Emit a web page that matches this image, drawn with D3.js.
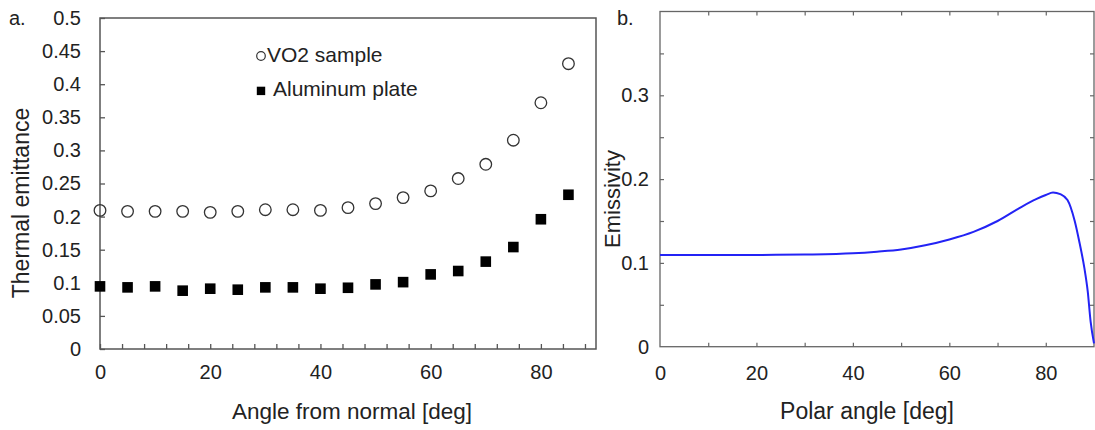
<!DOCTYPE html>
<html>
<head>
<meta charset="utf-8">
<script src="https://cdn.jsdelivr.net/npm/d3@7"></script>
<style>
	body { margin: 0; background: #fff; }
	svg { font-family: "Liberation Sans", Arial, sans-serif; }
</style>
</head>
<body>
<svg id="fig" width="1095" height="430"></svg>
<script>
// panel a: measured thermal emittance
var anglesA = [0, 5, 10, 15, 20, 25, 30, 35, 40, 45, 50, 55, 60, 65, 70, 75, 80, 85]
var vo2 = [0.2094, 0.2079, 0.2079, 0.2079, 0.2064, 0.2079, 0.2104, 0.2104, 0.2094, 0.2135, 0.2196, 0.2287, 0.2388, 0.2575, 0.279, 0.3154, 0.372, 0.431]
var aluminum = [0.0946, 0.0931, 0.0946, 0.0881, 0.0911, 0.0896, 0.0931, 0.0931, 0.0911, 0.0925, 0.0976, 0.101, 0.1127, 0.1178, 0.132, 0.154, 0.196, 0.233]
var yTicksA = [0, 0.05, 0.1, 0.15, 0.2, 0.25, 0.3, 0.35, 0.4, 0.45, 0.5]
var xLabelsA = [0, 20, 40, 60, 80]

// panel b: computed emissivity
var anglesB = [0, 10, 20, 30, 40, 45, 50, 55, 60, 65, 70, 75, 78, 80, 81.5, 83, 84.5, 86, 87, 88, 88.7, 89.3, 90]
var emissivity = [0.1094, 0.1094, 0.1095, 0.110, 0.1115, 0.1134, 0.116, 0.121, 0.128, 0.137, 0.150, 0.167, 0.176, 0.181, 0.184, 0.182, 0.175, 0.150, 0.124, 0.094, 0.066, 0.030, 0.004]
var yLabelsB = [0, 0.1, 0.2, 0.3]
var xLabelsB = [0, 20, 40, 60, 80]

var svg = d3.select("#fig")

// ---------- panel a ----------
var a = { left: 100, right: 596, top: 18, bottom: 349 }

var xA = d3.scaleLinear().domain([0, 90]).range([a.left, a.right])
var yA = d3.scaleLinear().domain([0, 0.5]).range([a.bottom, a.top])

svg.append("rect")
	.attr("x", a.left).attr("y", a.top)
	.attr("width", a.right - a.left).attr("height", a.bottom - a.top)
	.attr("fill", "none").attr("stroke", "#555").attr("stroke-width", 1.5)

var yAxisA = svg.append("g")
	.attr("transform", "translate(" + a.left + ",0)")
	.call(d3.axisLeft(yA).tickValues(yTicksA).tickSize(-5).tickPadding(19)
		.tickFormat(d => d3.format(".2~f")(d)))
yAxisA.select(".domain").remove()
yAxisA.selectAll("line").attr("stroke", "#555").attr("stroke-width", 1.3)
yAxisA.selectAll("text").style("font-size", "20px").attr("fill", "#222")

var xTicksA = svg.append("g")
	.attr("transform", "translate(0," + a.bottom + ")")
	.call(d3.axisBottom(xA).tickValues(d3.range(0, 90, 4)).tickSize(-5).tickFormat(""))
xTicksA.select(".domain").remove()
xTicksA.selectAll("line").attr("stroke", "#555").attr("stroke-width", 1.3)

var xLabA = svg.append("g")
	.attr("transform", "translate(0," + a.bottom + ")")
	.call(d3.axisBottom(xA).tickValues(xLabelsA).tickSize(0).tickPadding(16))
xLabA.select(".domain").remove()
xLabA.selectAll("text").style("font-size", "20px").attr("fill", "#222")

svg.selectAll(".vo2")
	.data(anglesA)
	.enter()
	.append("circle")
	.attr("cx", d => xA(d))
	.attr("cy", (d, i) => yA(vo2[i]))
	.attr("r", 5.8)
	.attr("fill", "none")
	.attr("stroke", "#333")
	.attr("stroke-width", 1.3)

svg.selectAll(".alu")
	.data(anglesA)
	.enter()
	.append("rect")
	.attr("x", d => xA(d) - 5.3)
	.attr("y", (d, i) => yA(aluminum[i]) - 5.3)
	.attr("width", 10.6)
	.attr("height", 10.6)
	.attr("fill", "#000")

// legend
var legend = svg.append("g").attr("transform", "translate(261,0)")
legend.append("circle").attr("cx", 0).attr("cy", 56).attr("r", 4.3)
	.attr("fill", "none").attr("stroke", "#333").attr("stroke-width", 1.2)
legend.append("text").attr("x", 6).attr("y", 62).text("VO2 sample")
	.style("font-size", "21px").attr("fill", "#222")
legend.append("rect").attr("x", -4.2).attr("y", 86.7).attr("width", 8.4).attr("height", 8.4).attr("fill", "#000")
legend.append("text").attr("x", 12).attr("y", 95.5).text("Aluminum plate")
	.style("font-size", "21px").attr("fill", "#222")

svg.append("text").attr("x", 9).attr("y", 25).text("a.")
	.style("font-size", "20px").attr("fill", "#222")

svg.append("text")
	.attr("x", 352).attr("y", 418.5)
	.attr("text-anchor", "middle")
	.text("Angle from normal [deg]")
	.style("font-size", "22.5px").attr("fill", "#222")

svg.append("text")
	.attr("transform", "translate(28.5,203) rotate(-90)")
	.attr("text-anchor", "middle")
	.text("Thermal emittance")
	.style("font-size", "23px").attr("fill", "#222")

// ---------- panel b ----------
var b = { left: 660, right: 1094, top: 11.5, bottom: 346.7 }

var xB = d3.scaleLinear().domain([0, 90]).range([b.left, b.right])
var yB = d3.scaleLinear().domain([0, 0.4]).range([b.bottom, b.top])

svg.append("rect")
	.attr("x", b.left).attr("y", b.top)
	.attr("width", b.right - b.left).attr("height", b.bottom - b.top)
	.attr("fill", "none").attr("stroke", "#666").attr("stroke-width", 1.3)

function inward(g) {
	g.select(".domain").remove()
	g.selectAll("line").attr("stroke", "#666").attr("stroke-width", 1.2)
}

var yTickVals = d3.range(0.05, 0.4, 0.05)
var xTickVals = d3.range(10, 90, 10)
svg.append("g").attr("transform", "translate(" + b.left + ",0)")
	.call(d3.axisLeft(yB).tickValues(yTickVals).tickSize(-4).tickFormat("")).call(inward)
svg.append("g").attr("transform", "translate(" + b.right + ",0)")
	.call(d3.axisRight(yB).tickValues(yTickVals).tickSize(-4).tickFormat("")).call(inward)
svg.append("g").attr("transform", "translate(0," + b.bottom + ")")
	.call(d3.axisBottom(xB).tickValues(xTickVals).tickSize(-4).tickFormat("")).call(inward)
svg.append("g").attr("transform", "translate(0," + b.top + ")")
	.call(d3.axisTop(xB).tickValues(xTickVals).tickSize(-4).tickFormat("")).call(inward)

var yLabB = svg.append("g").attr("transform", "translate(" + b.left + ",0)")
	.call(d3.axisLeft(yB).tickValues(yLabelsB).tickSize(0).tickPadding(11)
		.tickFormat(d => d3.format("~g")(d)))
yLabB.select(".domain").remove()
yLabB.selectAll("text").style("font-size", "20px").attr("fill", "#222")

var xLabB = svg.append("g").attr("transform", "translate(0," + b.bottom + ")")
	.call(d3.axisBottom(xB).tickValues(xLabelsB).tickSize(0).tickPadding(19))
xLabB.select(".domain").remove()
xLabB.selectAll("text").style("font-size", "20px").attr("fill", "#222")

var line = d3.line()
	.x(d => xB(d))
	.y((d, i) => yB(emissivity[i]))
	.curve(d3.curveMonotoneX)

svg.append("path")
	.datum(anglesB)
	.attr("d", line)
	.attr("fill", "none")
	.attr("stroke", "#2323f5")
	.attr("stroke-width", 2)

svg.append("text").attr("x", 617).attr("y", 25).text("b.")
	.style("font-size", "20px").attr("fill", "#222")

svg.append("text")
	.attr("x", 867).attr("y", 419)
	.attr("text-anchor", "middle")
	.text("Polar angle [deg]")
	.style("font-size", "23px").attr("fill", "#222")

svg.append("text")
	.attr("transform", "translate(620,199) rotate(-90)")
	.attr("text-anchor", "middle")
	.text("Emissivity")
	.style("font-size", "22px").attr("fill", "#222")
</script>
</body>
</html>
